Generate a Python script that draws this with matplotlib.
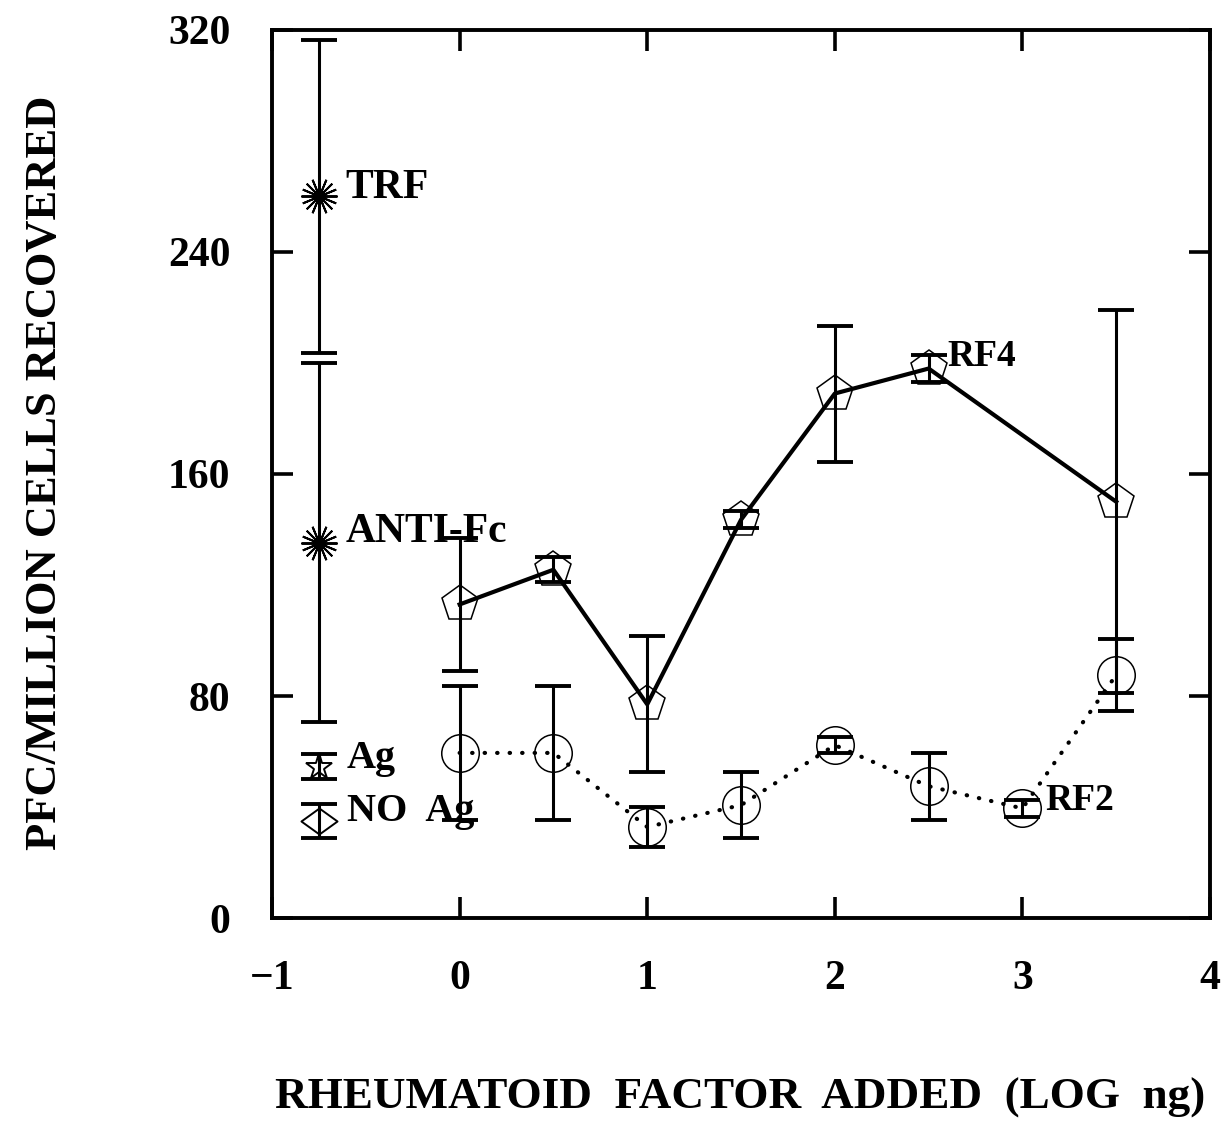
import matplotlib
matplotlib.use("Agg")
import matplotlib.pyplot as plt
from matplotlib.path import Path
import numpy as np

# RF4 series (open pentagons, solid line)
rf4_x = [0, 0.5, 1, 1.5, 2, 2.5, 3.5]
rf4_y = [113, 125.5, 77, 143.5, 189, 198, 150]
rf4_err = [24, 4.5, 24.5, 3, 24.5, 5, 69]

# RF2 series (open circles, dotted line)
rf2_x = [0, 0.5, 1, 1.5, 2, 2.5, 3, 3.5]
rf2_y = [59.5, 59.5, 32.8, 40.7, 62.3, 47.5, 39.5, 87.6]
rf2_err = [24, 24, 7.2, 12, 3, 12, 3, 13]

# Controls plotted at the left edge
ctrl_x = -0.75
ctrl_names = ["TRF", "ANTI-Fc", "Ag", "NO  Ag"]
ctrl_y = [260, 135.3, 54.5, 35]
ctrl_err = [56.5, 64.7, 4.5, 6]

x_ticks = [-1, 0, 1, 2, 3, 4]
y_ticks = [0, 80, 160, 240, 320]

SERIF = ["Liberation Serif", "DejaVu Serif"]

fig = plt.figure(figsize=(12.22, 11.39), dpi=100)
ax = fig.add_axes([0.2226, 0.194, 0.7676, 0.7797])

eb_kw = dict(ecolor="black", elinewidth=2.2, capsize=13, capthick=2.8)

# RF4
ax.errorbar(rf4_x, rf4_y, yerr=rf4_err, fmt="none", **eb_kw, zorder=3)
ax.plot(rf4_x, rf4_y, color="black", lw=3.0, zorder=4)
ax.plot(rf4_x, rf4_y, ls="none", marker="p", ms=27, mfc="none",
        mec="black", mew=1.1, zorder=5)

# RF2
ax.errorbar(rf2_x, rf2_y, yerr=rf2_err, fmt="none", **eb_kw, zorder=3)
ax.plot(rf2_x, rf2_y, color="black", lw=3.0, ls=(0, (0.1, 2.9)),
        dash_capstyle="round", zorder=4)
ax.plot(rf2_x, rf2_y, ls="none", marker="o", ms=27, mfc="none",
        mec="black", mew=1.1, zorder=5)

# Controls
burst = (16, 2, 0)
wide_diamond = Path([(-1, 0), (0, 0.72), (1, 0), (0, -0.72), (-1, 0)],
                    [Path.MOVETO, Path.LINETO, Path.LINETO, Path.LINETO,
                     Path.CLOSEPOLY])
ctrl_markers = [burst, burst, "*", wide_diamond]
ctrl_ms = [26, 26, 20, 26]
for yv, ev, mk, ms in zip(ctrl_y, ctrl_err, ctrl_markers, ctrl_ms):
    ax.errorbar([ctrl_x], [yv], yerr=[ev], fmt="none", **eb_kw, zorder=3)
    ax.plot([ctrl_x], [yv], ls="none", marker=mk, ms=ms, mfc="none",
            mec="black", mew=1.4, zorder=5)

# Text labels beside the markers
lab_pos = {"TRF": (-0.61, 263), "ANTI-Fc": (-0.61, 139),
           "Ag": (-0.60, 57.5), "NO  Ag": (-0.60, 38.5)}
for name in ctrl_names:
    lx, ly = lab_pos[name]
    fs = 30 if name in ("TRF", "ANTI-Fc") else 29
    ax.text(lx, ly, name, family=SERIF, fontsize=fs, fontweight="bold",
            va="center", ha="left", zorder=6)
ax.text(2.6, 202.5, "RF4", family=SERIF, fontsize=27, fontweight="bold",
        va="center", ha="left", zorder=6)
ax.text(3.12, 42.5, "RF2", family=SERIF, fontsize=27, fontweight="bold",
        va="center", ha="left", zorder=6)

ax.set_xlim(-1, 4)
ax.set_ylim(0, 320)
ax.set_xticks(x_ticks)
ax.set_yticks(y_ticks)
ax.set_xticklabels(["\u22121" if t < 0 else str(t) for t in x_ticks])
ax.tick_params(direction="in", length=15, width=2.6, top=True, right=True)
ax.tick_params(axis="y", pad=30)
ax.tick_params(axis="x", pad=30)
for lbl in ax.get_xticklabels() + ax.get_yticklabels():
    lbl.set_fontfamily(SERIF)
    lbl.set_fontsize(30)
    lbl.set_fontweight("bold")
for sp in ax.spines.values():
    sp.set_linewidth(2.8)

fig.text(0.037, 0.585, "PFC/MILLION CELLS RECOVERED", rotation=90,
         family=SERIF, fontsize=32, fontweight="bold", ha="center", va="center")
fig.text(0.606, 0.036, "RHEUMATOID  FACTOR  ADDED  (LOG  ng)",
         family=SERIF, fontsize=32.5, fontweight="bold", ha="center", va="center")

fig.savefig("out.png", dpi=100)
